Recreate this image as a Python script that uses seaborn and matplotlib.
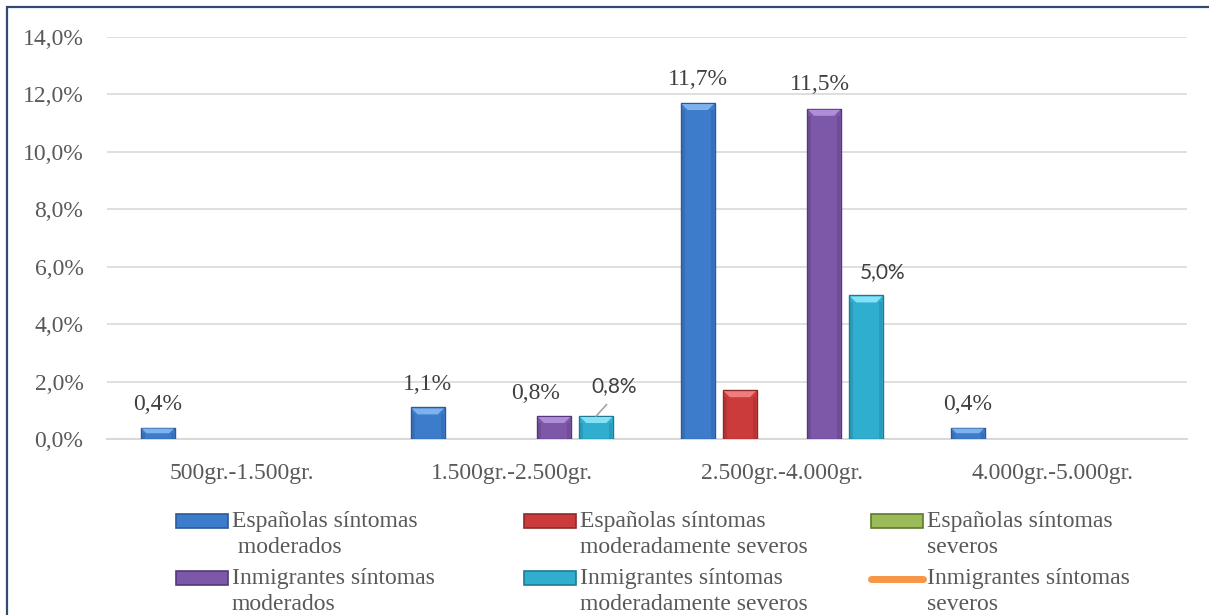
import numpy as np
import pandas as pd
import matplotlib
matplotlib.use("Agg")
import matplotlib.pyplot as plt
import matplotlib.patches as mpatches
from matplotlib.legend_handler import HandlerPatch, HandlerLine2D
import seaborn as sns

# ---------------- data ----------------
categories = ["500gr.-1.500gr.", "1.500gr.-2.500gr.",
              "2.500gr.-4.000gr.", "4.000gr.-5.000gr."]

bar_series = ["Españolas síntomas\n moderados",
              "Españolas síntomas\nmoderadamente severos",
              "Españolas síntomas\nseveros",
              "Inmigrantes síntomas\nmoderados",
              "Inmigrantes síntomas\nmoderadamente severos"]
line_series = "Inmigrantes síntomas\nseveros"

esp_moderados = [0.4, 1.1, 11.7, 0.4]
esp_mod_severos = [np.nan, np.nan, 1.7, np.nan]
esp_severos = [np.nan, np.nan, np.nan, np.nan]
inm_moderados = [np.nan, 0.8, 11.5, np.nan]
inm_mod_severos = [np.nan, 0.8, 5.0, np.nan]
inm_severos = [np.nan, np.nan, np.nan, np.nan]

y_ticks = [0, 2, 4, 6, 8, 10, 12, 14]

# ---------------- styling ----------------
face = ["#3D7CCB", "#CC3B3B", "#9BBB59", "#7E58A8", "#30AECF"]
edge = ["#2B5A96", "#8E2A2A", "#5E7A2A", "#54397A", "#1F7A93"]
bevel = ["#7DB2EE", "#EE7E7E", "#D4EC8E", "#B08DD8", "#85E2F6"]
line_color = "#F79646"

# data labels: (series index, category index) -> (dx px, dy px, font, leader)
label_style = {
    (0, 0): (0, 23, "serif", False),
    (0, 1): (0, 23, "serif", False),
    (0, 2): (0, 24, "serif", False),
    (0, 3): (0, 23, "serif", False),
    (3, 1): (-19, 23, "serif", False),
    (3, 2): (-4, 24, "serif", False),
    (4, 1): (18, 30, "sans", True),
    (4, 2): (16, 23, "sans", False),
}

sns.set_style("white")
plt.rcParams["font.family"] = ["Liberation Serif", "DejaVu Serif"]
txt_color = "#595959"
lab_color = "#404040"
FS = 17

W, H = 1209, 615
fig = plt.figure(figsize=(W / 100, H / 100), dpi=100)
ax = fig.add_axes([107 / W, 1 - 439 / H, 1080 / W, 402 / H])

values = [esp_moderados, esp_mod_severos, esp_severos,
          inm_moderados, inm_mod_severos]
rows = []
for name, vals in zip(bar_series, values):
    for cat, v in zip(categories, vals):
        rows.append({"cat": cat, "serie": name, "valor": v})
df = pd.DataFrame(rows).dropna()

BAR_WIDTH = 0.78
sns.barplot(data=df, x="cat", y="valor", hue="serie",
            order=categories, hue_order=bar_series,
            palette=dict(zip(bar_series, face)),
            width=BAR_WIDTH, gap=0.19, errorbar=None, legend=False,
            saturation=1, ax=ax, zorder=3)

# line series (no values present)
line_handle, = ax.plot(np.arange(len(categories)), inm_severos,
                       color=line_color, lw=5, solid_capstyle="round",
                       label=line_series)

ax.set_xlim(-0.5, len(categories) - 0.5)
ax.set_ylim(0, 14)
ax.set_yticks(y_ticks)
ax.set_yticklabels([f"{v:.1f}%".replace(".", ",") for v in y_ticks])
ax.set_xlabel("")
ax.set_ylabel("")
ax.grid(axis="y", color="#D9D9D9", lw=1.2, zorder=0)
ax.grid(axis="x", visible=False)
for s in ["left", "right", "top"]:
    ax.spines[s].set_visible(False)
ax.spines["bottom"].set_color("#D9D9D9")
ax.spines["bottom"].set_linewidth(1.5)
ax.tick_params(axis="y", length=0, pad=17, labelsize=FS, labelcolor=txt_color)
ax.tick_params(axis="x", length=0, pad=17, labelsize=FS, labelcolor=txt_color)

# bevelled look and value labels for each bar
n = len(bar_series)
step = BAR_WIDTH / n
to_disp = ax.transData
to_data = ax.transData.inverted()
for p in list(ax.patches):
    h = p.get_height()
    if not np.isfinite(h) or h <= 0:
        continue
    x0 = p.get_x()
    w = p.get_width()
    xc = x0 + w / 2
    ci = int(round(xc))
    si = int(round((xc - ci) / step + (n - 1) / 2))
    p.set_edgecolor(edge[si])
    p.set_linewidth(1.0)
    # top bevel
    (dx0, dy0), (dx1, dy1) = to_disp.transform([(x0, 0), (x0 + w, h)])
    b = min(7.0, (dy1 - dy0) / 2.0, (dx1 - dx0) / 2.0)
    poly_disp = [(dx0 + 1, dy1 - 1), (dx1 - 1, dy1 - 1),
                 (dx1 - b, dy1 - b), (dx0 + b, dy1 - b)]
    poly = to_data.transform(poly_disp)
    ax.add_patch(mpatches.Polygon(poly, closed=True, facecolor=bevel[si],
                                  edgecolor="none", zorder=4))
    # side shading
    for xs in [(dx0 + 1, dx0 + 4), (dx1 - 4, dx1 - 1)]:
        side = to_data.transform([(xs[0], dy0), (xs[1], dy0),
                                  (xs[1], dy1 - b), (xs[0], dy1 - b)])
        ax.add_patch(mpatches.Polygon(side, closed=True, facecolor=edge[si],
                                      alpha=0.35, edgecolor="none", zorder=4))
    key = (si, ci)
    if key in label_style:
        ddx, ddy, fam, leader = label_style[key]
        text = f"{h:.1f}%".replace(".", ",")
        family = ["Lato", "DejaVu Sans"] if fam == "sans" else ["Liberation Serif"]
        size = 15 if fam == "sans" else FS
        kw = {}
        if leader:
            kw["arrowprops"] = dict(arrowstyle="-", color="#A6A6A6", lw=1.2,
                                    relpos=(0.5, 0.0), shrinkA=5, shrinkB=0)
        ax.annotate(text, xy=(xc, h), xytext=(ddx, ddy),
                    textcoords="offset pixels", ha="center", va="center",
                    fontsize=size, family=family, color=lab_color,
                    zorder=6, **kw)


# legend: handles aligned with the first line of each two-line label
SHIFT = 0.55 * FS


class TopPatch(HandlerPatch):
    def create_artists(self, legend, orig_handle, xdescent, ydescent,
                       width, height, fontsize, trans):
        return super().create_artists(legend, orig_handle, xdescent,
                                      ydescent - SHIFT, width, height,
                                      fontsize, trans)


class TopLine(HandlerLine2D):
    def create_artists(self, legend, orig_handle, xdescent, ydescent,
                       width, height, fontsize, trans):
        return super().create_artists(legend, orig_handle, xdescent,
                                      ydescent - 2 * SHIFT, width, height,
                                      fontsize, trans)


bar_handles = [mpatches.Patch(facecolor=f, edgecolor=e, lw=1.2)
               for f, e in zip(face, edge)]
all_handles = bar_handles + [line_handle]
all_labels = bar_series + [line_series]

col_x = [176, 524, 871]
for c in range(3):
    hs = [all_handles[c], all_handles[c + 3]]
    ls = [all_labels[c], all_labels[c + 3]]
    leg = fig.legend(hs, ls, loc="upper left",
                     bbox_to_anchor=(col_x[c] / W, 1 - 511 / H),
                     frameon=False, fontsize=FS, labelcolor=txt_color,
                     handlelength=2.2, handleheight=0.51,
                     handletextpad=0.17, labelspacing=0.42,
                     borderpad=0, borderaxespad=0,
                     handler_map={mpatches.Patch: TopPatch(),
                                  type(line_handle): TopLine()})
    for t in leg.get_texts():
        t.set_linespacing(1.3)

# outer chart border
fig.patches.append(mpatches.Rectangle((7 / W, -0.05), 1.2, 1 - 7 / H + 0.05,
                                      transform=fig.transFigure, fill=False,
                                      edgecolor="#2F4B6E", lw=1.6))

fig.savefig("out.png", dpi=100)
